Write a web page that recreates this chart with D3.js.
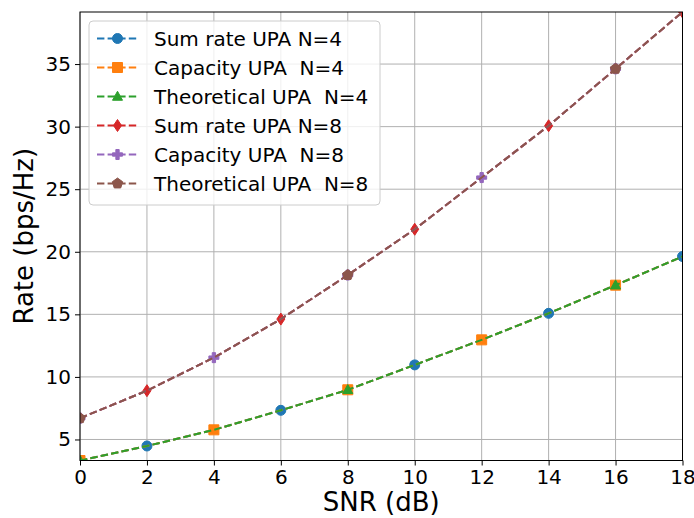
<!DOCTYPE html>
<html>
<head>
<meta charset="utf-8">
<script src="https://cdn.jsdelivr.net/npm/d3@7"></script>
<style>
  html, body { margin: 0; padding: 0; background: #fff; }
  svg { display: block; font-family: "DejaVu Sans", sans-serif; }
  text { white-space: pre; }
</style>
</head>
<body>
<svg id="chart" width="694" height="518"></svg>
<script>
// SNR sweep (dB)
const snr = [0, 2, 4, 6, 8, 10, 12, 14, 16, 18];

// Rates for the 4-element UPA (bps/Hz)
const sumRateN4     = [3.32, 4.48, 5.77, 7.33, 8.97, 10.96, 12.96, 15.08, 17.33, 19.62];
const capacityN4    = [3.32, 4.48, 5.77, 7.33, 8.97, 10.96, 12.96, 15.08, 17.33, 19.62];
const theoreticalN4 = [3.32, 4.48, 5.77, 7.33, 8.97, 10.96, 12.96, 15.08, 17.33, 19.62];

// Rates for the 8-element UPA (bps/Hz)
const sumRateN8     = [6.70, 8.90, 11.54, 14.62, 18.14, 21.80, 25.93, 30.07, 34.62, 39.16];
const capacityN8    = [6.70, 8.90, 11.54, 14.62, 18.14, 21.80, 25.93, 30.07, 34.62, 39.16];
const theoreticalN8 = [6.70, 8.90, 11.54, 14.62, 18.14, 21.80, 25.93, 30.07, 34.62, 39.16];

const xTicks = [0, 2, 4, 6, 8, 10, 12, 14, 16, 18];
const yTicks = [5, 10, 15, 20, 25, 30, 35];

const seriesNames = [
  "Sum rate UPA N=4", "Capacity UPA  N=4", "Theoretical UPA  N=4",
  "Sum rate UPA N=8", "Capacity UPA  N=8", "Theoretical UPA  N=8"
];

const series = [
  { name: seriesNames[0], values: sumRateN4,     color: "#1f77b4", marker: "circle",   every: [1, 3, 5, 7, 9] },
  { name: seriesNames[1], values: capacityN4,    color: "#ff7f0e", marker: "square",   every: [0, 2, 4, 6, 8] },
  { name: seriesNames[2], values: theoreticalN4, color: "#2ca02c", marker: "triangle", every: [0, 4, 8] },
  { name: seriesNames[3], values: sumRateN8,     color: "#d62728", marker: "thindiamond", every: [1, 3, 5, 7, 9] },
  { name: seriesNames[4], values: capacityN8,    color: "#9467bd", marker: "plusfilled",  every: [0, 2, 4, 6, 8] },
  { name: seriesNames[5], values: theoreticalN8, color: "#8c564b", marker: "pentagon",    every: [0, 4, 8] }
];

const plot = { left: 80, right: 682.5, top: 12, bottom: 460.5 };
const yMin = d3.min(theoreticalN4), yMax = d3.max(theoreticalN8);

const x = d3.scaleLinear().domain([0, 18]).range([plot.left, plot.right]);
const y = d3.scaleLinear().domain([yMin, yMax]).range([plot.bottom, plot.top]);

const svg = d3.select("#chart");

svg.append("defs").append("clipPath").attr("id", "plotClip")
  .append("rect")
  .attr("x", plot.left).attr("y", plot.top)
  .attr("width", plot.right - plot.left).attr("height", plot.bottom - plot.top);

// Grid
const grid = svg.append("g").attr("stroke", "#b0b0b0").attr("stroke-width", 1);
xTicks.forEach(t => grid.append("line")
  .attr("x1", x(t)).attr("x2", x(t)).attr("y1", plot.top).attr("y2", plot.bottom));
yTicks.forEach(t => grid.append("line")
  .attr("x1", plot.left).attr("x2", plot.right).attr("y1", y(t)).attr("y2", y(t)));

// Marker paths
function markerPath(type, s) {
  const r = s / 2;
  switch (type) {
    case "circle":
      return d3.symbol(d3.symbolCircle, Math.PI * r * r)();
    case "square":
      return `M${-r},${-r}H${r}V${r}H${-r}Z`;
    case "triangle":
      return `M0,${-r * 1.05}L${r},${r * 0.75}L${-r},${r * 0.75}Z`;
    case "thindiamond":
      return `M0,${-r * 1.2}L${r * 0.8},0L0,${r * 1.2}L${-r * 0.8},0Z`;
    case "plusfilled": {
      const a = r, b = r / 3;
      return `M${-b},${-a}H${b}V${-b}H${a}V${b}H${b}V${a}H${-b}V${b}H${-a}V${-b}H${-b}Z`;
    }
    case "pentagon": {
      const pts = d3.range(5).map(i => {
        const ang = -Math.PI / 2 + i * 2 * Math.PI / 5;
        return [r * 1.1 * Math.cos(ang), r * 1.1 * Math.sin(ang)];
      });
      return "M" + pts.map(p => p.join(",")).join("L") + "Z";
    }
  }
}

const line = d3.line().x((d, i) => x(snr[i])).y(d => y(d));
const body = svg.append("g").attr("clip-path", "url(#plotClip)");

series.forEach(s => {
  const g = body.append("g");
  g.append("path")
    .attr("d", line(s.values))
    .attr("fill", "none")
    .attr("stroke", s.color)
    .attr("stroke-width", 2)
    .attr("stroke-dasharray", "7.4,3.2");
  s.every.forEach(i => {
    g.append("path")
      .attr("d", markerPath(s.marker, 10))
      .attr("transform", `translate(${x(snr[i])},${y(s.values[i])})`)
      .attr("fill", s.color)
      .attr("stroke", s.color)
      .attr("stroke-width", 1);
  });
});

// Axes
const xAxis = svg.append("g")
  .attr("transform", `translate(0,${plot.bottom})`)
  .call(d3.axisBottom(x).tickValues(xTicks).tickSize(5).tickPadding(4).tickFormat(d3.format("d")));
const yAxis = svg.append("g")
  .attr("transform", `translate(${plot.left},0)`)
  .call(d3.axisLeft(y).tickValues(yTicks).tickSize(5).tickPadding(4).tickFormat(d3.format("d")));
[xAxis, yAxis].forEach(a => {
  a.select(".domain").remove();
  a.selectAll("line").attr("stroke", "#000").attr("stroke-width", 1);
  a.selectAll("text").attr("font-size", 20).attr("fill", "#000")
    .attr("font-family", "DejaVu Sans, sans-serif");
});

// Frame
svg.append("rect")
  .attr("x", plot.left).attr("y", plot.top)
  .attr("width", plot.right - plot.left).attr("height", plot.bottom - plot.top)
  .attr("fill", "none").attr("stroke", "#000").attr("stroke-width", 1);

// Axis titles
svg.append("text")
  .attr("x", (plot.left + plot.right) / 2).attr("y", 511)
  .attr("text-anchor", "middle").attr("font-size", 26).attr("fill", "#000")
  .text("SNR (dB)");
svg.append("text")
  .attr("transform", `translate(33,${(plot.top + plot.bottom) / 2}) rotate(-90)`)
  .attr("text-anchor", "middle").attr("font-size", 26).attr("fill", "#000")
  .text("Rate (bps/Hz)");

// Legend
const legend = svg.append("g");
legend.append("rect")
  .attr("x", 89).attr("y", 21).attr("width", 291).attr("height", 184)
  .attr("rx", 4).attr("ry", 4)
  .attr("fill", "#fff").attr("fill-opacity", 0.8)
  .attr("stroke", "#cccccc").attr("stroke-width", 1);
series.forEach((s, i) => {
  const cy = 38.5 + i * 29;
  legend.append("line")
    .attr("x1", 97).attr("x2", 138).attr("y1", cy).attr("y2", cy)
    .attr("stroke", s.color).attr("stroke-width", 2)
    .attr("stroke-dasharray", "7.4,3.2");
  legend.append("path")
    .attr("d", markerPath(s.marker, 10))
    .attr("transform", `translate(117.5,${cy})`)
    .attr("fill", s.color).attr("stroke", s.color).attr("stroke-width", 1);
  legend.append("text")
    .attr("x", 154).attr("y", cy + 7)
    .attr("font-size", 20).attr("fill", "#000")
    .attr("xml:space", "preserve")
    .text(s.name);
});
</script>
</body>
</html>
